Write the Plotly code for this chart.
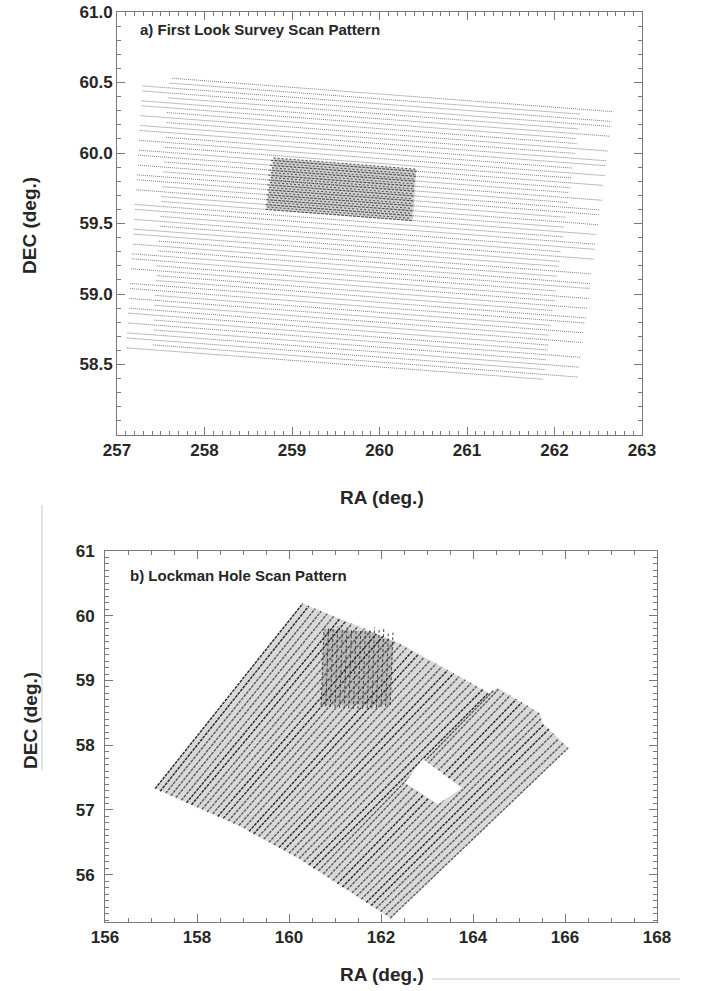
import plotly.graph_objects as go

# ---------------- Panel a: First Look Survey scan legs (deg) ----------------
fls_ra_start = [257.63, 257.60, 257.29, 257.29, 257.59, 257.28, 257.28, 257.57, 257.27, 257.57,
                257.27, 257.26, 257.56, 257.25, 257.55, 257.25, 257.24, 257.54, 257.24, 257.53,
                257.23, 257.23, 257.52, 257.22, 257.51, 257.51, 257.21, 257.21, 257.50, 257.20,
                257.49, 257.19, 257.19, 257.48, 257.18, 257.47, 257.17, 257.17, 257.46, 257.16,
                257.46, 257.45, 257.15, 257.15, 257.44, 257.14, 257.43, 257.14, 257.13, 257.42,
                257.13, 257.42, 257.12, 257.11, 257.41, 257.11]
fls_dec_start = [60.530, 60.496, 60.476, 60.440, 60.391, 60.370, 60.335, 60.287, 60.265, 60.216,
                 60.195, 60.160, 60.111, 60.090, 60.041, 60.020, 59.985, 59.936, 59.914, 59.866,
                 59.845, 59.810, 59.761, 59.739, 59.691, 59.656, 59.635, 59.600, 59.550, 59.529,
                 59.481, 59.460, 59.425, 59.375, 59.354, 59.306, 59.285, 59.250, 59.200, 59.179,
                 59.130, 59.095, 59.075, 59.039, 58.990, 58.969, 58.920, 58.899, 58.864, 58.815,
                 58.794, 58.745, 58.724, 58.688, 58.639, 58.618]
fls_ra_end = [262.67, 262.29, 262.65, 262.65, 262.27, 262.63, 262.25, 262.25, 262.61, 262.23,
              262.59, 262.59, 262.21, 262.57, 262.19, 262.56, 262.18, 262.17, 262.54, 262.15,
              262.52, 262.51, 262.13, 262.50, 262.11, 262.48, 262.10, 262.47, 262.46, 262.07,
              262.45, 262.06, 262.05, 262.42, 262.03, 262.41, 262.40, 262.01, 262.39, 262.00,
              262.37, 261.98, 262.36, 262.35, 261.96, 262.33, 261.94, 262.32, 261.93, 261.92,
              262.30, 261.90, 262.28, 261.89, 262.27, 261.87]
fls_dec_end = [60.293, 60.276, 60.224, 60.188, 60.171, 60.119, 60.102, 60.067, 60.014, 59.997,
               59.945, 59.910, 59.893, 59.840, 59.823, 59.770, 59.753, 59.719, 59.665, 59.649,
               59.596, 59.562, 59.544, 59.491, 59.474, 59.422, 59.405, 59.353, 59.317, 59.300,
               59.247, 59.231, 59.196, 59.143, 59.126, 59.073, 59.039, 59.022, 58.968, 58.952,
               58.899, 58.883, 58.830, 58.794, 58.777, 58.725, 58.708, 58.656, 58.638, 58.603,
               58.551, 58.534, 58.481, 58.464, 58.411, 58.395]

# verification strip (dense block)
vs_ra_start = [258.79, 258.76, 258.78, 258.75, 258.77, 258.74, 258.76, 258.73, 258.76, 258.73, 258.75,
               258.72, 258.74, 258.72, 258.74, 258.71, 258.73, 258.71, 258.73, 258.70, 258.72, 258.70]
vs_dec_start = [59.965, 59.948, 59.930, 59.913, 59.895, 59.878, 59.861, 59.843, 59.826, 59.808, 59.791,
                59.774, 59.756, 59.739, 59.721, 59.704, 59.687, 59.669, 59.652, 59.634, 59.617, 59.600]
vs_ra_end = [260.42, 260.44, 260.41, 260.43, 260.40, 260.42, 260.40, 260.42, 260.39, 260.41, 260.39,
             260.41, 260.38, 260.40, 260.38, 260.40, 260.37, 260.39, 260.37, 260.39, 260.36, 260.38]
vs_dec_end = [59.885, 59.868, 59.850, 59.833, 59.815, 59.798, 59.781, 59.763, 59.746, 59.728, 59.711,
              59.694, 59.676, 59.659, 59.641, 59.624, 59.607, 59.589, 59.572, 59.554, 59.537, 59.520]
vs_corner_ra = [258.79, 260.42, 260.38, 258.70]
vs_corner_dec = [59.965, 59.885, 59.520, 59.600]

fls_ra_ticks = [257, 258, 259, 260, 261, 262, 263]
fls_dec_ticks = [58.5, 59.0, 59.5, 60.0, 60.5, 61.0]
fls_dec_labels = ["58.5", "59.0", "59.5", "60.0", "60.5", "61.0"]

# ---------------- Panel b: Lockman Hole scan legs (deg) ----------------
lh_ra_start = [157.09, 157.20, 157.32, 157.43, 157.54, 157.66, 157.77, 157.88, 158.00, 158.11,
               158.22, 158.34, 158.45, 158.57, 158.68, 158.79, 158.91, 159.02, 159.13, 159.23,
               159.34, 159.45, 159.56, 159.67, 159.78, 159.89, 160.00, 160.11, 160.22, 160.32,
               160.43, 160.53, 160.64, 160.74, 160.84, 160.95, 161.05, 161.16, 161.26, 161.37,
               161.47, 161.57, 161.68, 161.78, 161.89, 161.99, 162.10, 162.20]
lh_dec_start = [57.33, 57.29, 57.26, 57.22, 57.19, 57.15, 57.11, 57.08, 57.04, 57.01,
                56.97, 56.94, 56.90, 56.87, 56.83, 56.79, 56.76, 56.72, 56.67, 56.63,
                56.59, 56.55, 56.50, 56.46, 56.42, 56.38, 56.33, 56.29, 56.25, 56.20,
                56.15, 56.10, 56.06, 56.01, 55.96, 55.91, 55.86, 55.81, 55.77, 55.72,
                55.67, 55.62, 55.57, 55.52, 55.48, 55.43, 55.38, 55.33]
lh_ra_end = [160.30, 160.43, 160.57, 160.70, 160.83, 160.97, 161.10, 161.24, 161.37, 161.50,
             161.64, 161.77, 161.90, 162.04, 162.17, 162.30, 162.44, 162.56, 162.69, 162.82,
             162.94, 163.07, 163.20, 163.32, 163.45, 163.58, 163.70, 163.83, 163.96, 164.08,
             164.21, 164.34, 164.45, 164.56, 164.69, 164.81, 164.94, 165.06, 165.19, 165.31,
             165.44, 165.48, 165.54, 165.65, 165.75, 165.86, 165.96, 166.07]
lh_dec_end = [60.19, 60.15, 60.11, 60.07, 60.03, 59.99, 59.95, 59.92, 59.88, 59.84,
              59.80, 59.76, 59.72, 59.68, 59.64, 59.60, 59.56, 59.51, 59.46, 59.41,
              59.36, 59.31, 59.26, 59.21, 59.16, 59.11, 59.06, 59.01, 58.96, 58.91,
              58.86, 58.81, 58.85, 58.87, 58.82, 58.77, 58.71, 58.66, 58.61, 58.55,
              58.50, 58.41, 58.32, 58.25, 58.18, 58.10, 58.03, 57.96]
lh_outline_ra = [157.09, 160.30, 162.41, 164.37, 164.52, 165.46, 165.50, 166.07, 162.20, 160.24, 158.93]
lh_outline_dec = [57.33, 60.19, 59.57, 58.80, 58.89, 58.49, 58.35, 57.96, 55.33, 56.24, 56.75]

# deep (cross-scanned) patch
deep_ra_start = [160.70, 160.80, 160.90, 161.00, 161.10, 161.20, 161.30, 161.40,
                 161.50, 161.60, 161.70, 161.80, 161.90, 162.00, 162.10, 162.20]
deep_dec_start = [58.62, 58.60, 58.59, 58.58, 58.58, 58.57, 58.57, 58.56,
                  58.56, 58.56, 58.57, 58.57, 58.58, 58.59, 58.60, 58.62]
deep_ra_end = [160.76, 160.86, 160.96, 161.06, 161.16, 161.26, 161.36, 161.46,
               161.56, 161.66, 161.76, 161.86, 161.96, 162.06, 162.16, 162.26]
deep_dec_end = [59.80, 59.82, 59.81, 59.83, 59.80, 59.82, 59.79, 59.81,
                59.78, 59.80, 59.79, 59.82, 59.78, 59.80, 59.76, 59.74]
deep_outline_ra = [160.70, 160.76, 161.80, 162.26, 162.20]
deep_outline_dec = [58.62, 59.80, 59.75, 59.60, 58.62]

# uncovered hole
hole_ra = [162.91, 163.76, 163.24, 162.52]
hole_dec = [57.79, 57.34, 57.09, 57.42]

lh_ra_ticks = [156, 158, 160, 162, 164, 166, 168]
lh_dec_ticks = [56, 57, 58, 59, 60, 61]

FONT = "Liberation Sans, Arial, Helvetica, sans-serif"
TXT = "#262626"
AX = "#7a7a7a"


def segments(x0, y0, x1, y1, keep=None):
    xs, ys = [], []
    for i in range(len(x0)):
        if keep is not None and not keep(i):
            continue
        xs += [x0[i], x1[i], None]
        ys += [y0[i], y1[i], None]
    return xs, ys


fig = go.Figure()

# ---- panel a ----
x, y = segments(fls_ra_start, fls_dec_start, fls_ra_end, fls_dec_end)
fig.add_trace(go.Scatter(x=x, y=y, mode="lines", xaxis="x", yaxis="y",
                         line=dict(color="#5a5a5a", width=0.8, dash="1px,1px"),
                         hoverinfo="skip", showlegend=False))
fig.add_trace(go.Scatter(x=vs_corner_ra + vs_corner_ra[:1], y=vs_corner_dec + vs_corner_dec[:1],
                         mode="lines", fill="toself", fillcolor="rgba(0,0,0,0.18)",
                         line=dict(width=0), xaxis="x", yaxis="y",
                         hoverinfo="skip", showlegend=False))
x, y = segments(vs_ra_start, vs_dec_start, vs_ra_end, vs_dec_end)
fig.add_trace(go.Scatter(x=x, y=y, mode="lines", xaxis="x", yaxis="y",
                         line=dict(color="#333333", width=0.9, dash="2px,2px"),
                         hoverinfo="skip", showlegend=False))

# ---- panel b ----
fig.add_trace(go.Scatter(x=lh_outline_ra + lh_outline_ra[:1], y=lh_outline_dec + lh_outline_dec[:1],
                         mode="lines", fill="toself", fillcolor="rgba(0,0,0,0.15)",
                         line=dict(width=0), xaxis="x2", yaxis="y2",
                         hoverinfo="skip", showlegend=False))
x, y = segments(lh_ra_start, lh_dec_start, lh_ra_end, lh_dec_end, keep=lambda i: i % 6 >= 2)
fig.add_trace(go.Scatter(x=x, y=y, mode="lines", xaxis="x2", yaxis="y2",
                         line=dict(color="#5a5a5a", width=1.4, dash="3px,1px"),
                         hoverinfo="skip", showlegend=False))
x, y = segments(lh_ra_start, lh_dec_start, lh_ra_end, lh_dec_end, keep=lambda i: i % 6 < 2)
fig.add_trace(go.Scatter(x=x, y=y, mode="lines", xaxis="x2", yaxis="y2",
                         line=dict(color="#262626", width=1.4, dash="3px,1px"),
                         hoverinfo="skip", showlegend=False))
fig.add_trace(go.Scatter(x=deep_outline_ra + deep_outline_ra[:1], y=deep_outline_dec + deep_outline_dec[:1],
                         mode="lines", fill="toself", fillcolor="rgba(0,0,0,0.14)",
                         line=dict(width=0), xaxis="x2", yaxis="y2",
                         hoverinfo="skip", showlegend=False))
x, y = segments(deep_ra_start, deep_dec_start, deep_ra_end, deep_dec_end)
fig.add_trace(go.Scatter(x=x, y=y, mode="lines", xaxis="x2", yaxis="y2",
                         line=dict(color="#333333", width=0.9, dash="3px,2px"),
                         hoverinfo="skip", showlegend=False))
fig.add_trace(go.Scatter(x=hole_ra + hole_ra[:1], y=hole_dec + hole_dec[:1],
                         mode="lines", fill="toself", fillcolor="white",
                         line=dict(width=0, color="white"), xaxis="x2", yaxis="y2",
                         hoverinfo="skip", showlegend=False))

W, H = 703, 991


def px(v):
    return v / W


def py(v):
    return 1 - v / H


axis_common = dict(showgrid=False, zeroline=False, showline=True, linecolor=AX, linewidth=1,
                   mirror="ticks", ticks="inside", tickcolor=AX, ticklen=8, tickwidth=1,
                   automargin=False, ticklabeloverflow="allow",
                   tickfont=dict(family=FONT, size=17, color=TXT, weight="bold"))

fig.update_layout(
    template="none",
    width=W, height=H, margin=dict(l=0, r=0, t=0, b=0, autoexpand=False),
    paper_bgcolor="white", plot_bgcolor="white", showlegend=False,
    xaxis=dict(axis_common, domain=[px(117), px(642)], range=[257, 263], anchor="y",
               tickmode="array", tickvals=fls_ra_ticks,
               minor=dict(dtick=0.1, tick0=257, ticks="inside", ticklen=4, tickcolor=AX)),
    yaxis=dict(axis_common, domain=[py(435), py(12)], range=[58, 61], anchor="x",
               tickmode="array", tickvals=fls_dec_ticks, ticktext=fls_dec_labels,
               minor=dict(dtick=0.1, tick0=58, ticks="inside", ticklen=4, tickcolor=AX)),
    xaxis2=dict(axis_common, domain=[px(105), px(657)], range=[156, 168], anchor="y2",
                tickmode="array", tickvals=lh_ra_ticks,
                minor=dict(dtick=0.5, tick0=156, ticks="inside", ticklen=4, tickcolor=AX)),
    yaxis2=dict(axis_common, domain=[py(922), py(551)], range=[55.27, 61], anchor="x2",
                tickmode="array", tickvals=lh_dec_ticks, ticklabelstandoff=6,
                minor=dict(dtick=0.1, tick0=55, ticks="inside", ticklen=4, tickcolor=AX)),
)

ann = [
    dict(text="a) First Look Survey Scan Pattern", x=px(138), y=py(30), xanchor="left", yanchor="middle",
         font=dict(family=FONT, size=15, color=TXT, weight="bold")),
    dict(text="b) Lockman Hole Scan Pattern", x=px(128), y=py(575), xanchor="left", yanchor="middle",
         font=dict(family=FONT, size=15, color=TXT, weight="bold")),
    dict(text="RA (deg.)", x=px(382), y=py(497), xanchor="center", yanchor="middle",
         font=dict(family=FONT, size=19, color=TXT, weight="bold")),
    dict(text="RA (deg.)", x=px(382), y=py(974), xanchor="center", yanchor="middle",
         font=dict(family=FONT, size=19, color=TXT, weight="bold")),
    dict(text="DEC (deg.)", x=px(30), y=py(225), xanchor="center", yanchor="middle", textangle=-90,
         font=dict(family=FONT, size=19, color=TXT, weight="bold")),
    dict(text="DEC (deg.)", x=px(30), y=py(720), xanchor="center", yanchor="middle", textangle=-90,
         font=dict(family=FONT, size=19, color=TXT, weight="bold")),
]
for a in ann:
    a.update(xref="paper", yref="paper", showarrow=False)
fig.update_layout(annotations=ann)

# faint scan-edge rules seen in the scanned figure
fig.update_layout(shapes=[
    dict(type="line", xref="paper", yref="paper", x0=px(42), x1=px(42), y0=py(505), y1=py(770),
         line=dict(color="#c8c8c8", width=1)),
    dict(type="line", xref="paper", yref="paper", x0=px(432), x1=px(680), y0=py(979), y1=py(979),
         line=dict(color="#c8c8c8", width=1)),
])

# remove the browser's default page margin so the figure fills the window exactly
fig.write_html("out.html", config={"displayModeBar": False},
               post_script="document.body.style.margin='0px';")
